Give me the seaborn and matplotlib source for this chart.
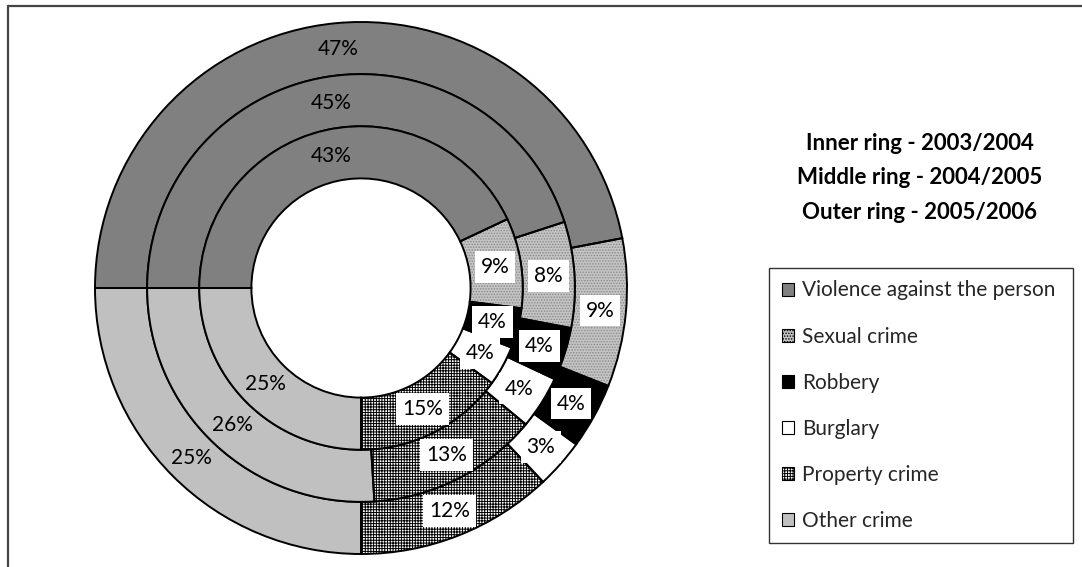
import matplotlib
matplotlib.use("Agg")
import matplotlib.pyplot as plt
import matplotlib.patches as mpatches
import seaborn as sns
import numpy as np

sns.set_theme(style="white")
plt.rcParams['font.family'] = ['Lato', 'DejaVu Sans']
plt.rcParams['hatch.linewidth'] = 0.7

categories = ["Violence against the person", "Sexual crime", "Robbery",
              "Burglary", "Property crime", "Other crime"]
inner_2003_04 = [43, 9, 4, 4, 15, 25]
middle_2004_05 = [45, 8, 4, 4, 13, 26]
outer_2005_06 = [47, 9, 4, 3, 12, 25]
ring_titles = ["Inner ring - 2003/2004", "Middle ring - 2004/2005", "Outer ring - 2005/2006"]

face = ["#808080", "#c4c4c4", "#000000", "#ffffff", "#ffffff", "#c0c0c0"]
hatch = [None, "......", None, None, "++++++", None]
hatch_col = [None, "#8a8a8a", None, None, "#000000", None]
boxed = [False, True, True, True, True, False]

W, H = 1082, 567
fig = plt.figure(figsize=(W / 100, H / 100), dpi=100)
cx, cy, R = 361, 288, 266
ax = fig.add_axes([(cx - R) / W, (H - cy - R) / H, 2 * R / W, 2 * R / H])

width = 0.196
rings = [(outer_2005_06, 1.0), (middle_2004_05, 1.0 - width), (inner_2003_04, 1.0 - 2 * width)]

for vals, rad in rings:
    # fill layer
    wedges, _ = ax.pie(vals, radius=rad, startangle=180, counterclock=False,
                       wedgeprops=dict(width=width, linewidth=0))
    for w, fc, h, hc in zip(wedges, face, hatch, hatch_col):
        w.set_facecolor(fc)
        if h:
            w.set_hatch(h)
            w.set_edgecolor(hc)
            w.set_linewidth(0)
    # outline layer
    ax.pie(vals, radius=rad, startangle=180, counterclock=False,
           wedgeprops=dict(width=width, linewidth=1.4, edgecolor="black", fill=False))
    # labels
    total = sum(vals)
    cum = 0
    for v, bx in zip(vals, boxed):
        mid = 180 - (cum + v / 2) / total * 360
        cum += v
        r = rad - width / 2
        x, y = r * np.cos(np.radians(mid)), r * np.sin(np.radians(mid))
        kw = {}
        if bx:
            kw["bbox"] = dict(boxstyle="square,pad=0.28", facecolor="white", edgecolor="none")
        ax.text(x, y, f"{v}%", ha="center", va="center", fontsize=15, color="black", **kw)

ax.set_xlim(-1, 1)
ax.set_ylim(-1, 1)
ax.set_aspect("equal")
ax.axis("off")

# ring titles
for i, t in enumerate(ring_titles):
    fig.text(920 / W, 1 - (143 + 35 * i) / H, t, ha="center", va="center",
             fontsize=16, fontweight="bold", color="black")

# legend
handles = []
for fc, h in zip(face, hatch):
    handles.append(mpatches.Patch(facecolor=fc, hatch=h, edgecolor="black", linewidth=0.8))
leg = fig.legend(handles, categories, loc="upper left",
                 bbox_to_anchor=(769 / W, 1 - 268 / H, (1073 - 769) / W, 0.0),
                 mode="expand", borderaxespad=0, fontsize=15, frameon=True,
                 fancybox=False, edgecolor="black", handlelength=0.6, handleheight=0.6,
                 handletextpad=0.4, labelspacing=1.25, borderpad=0.6)
leg.get_frame().set_linewidth(1.0)

# outer frame (left and top edges visible)
fig.add_artist(plt.Line2D([8 / W, 8 / W], [0, 1 - 6 / H], color="#444444", lw=1.6,
                          transform=fig.transFigure))
fig.add_artist(plt.Line2D([8 / W, 1], [1 - 6 / H, 1 - 6 / H], color="#444444", lw=1.6,
                          transform=fig.transFigure))

fig.savefig("out.png", dpi=100)
